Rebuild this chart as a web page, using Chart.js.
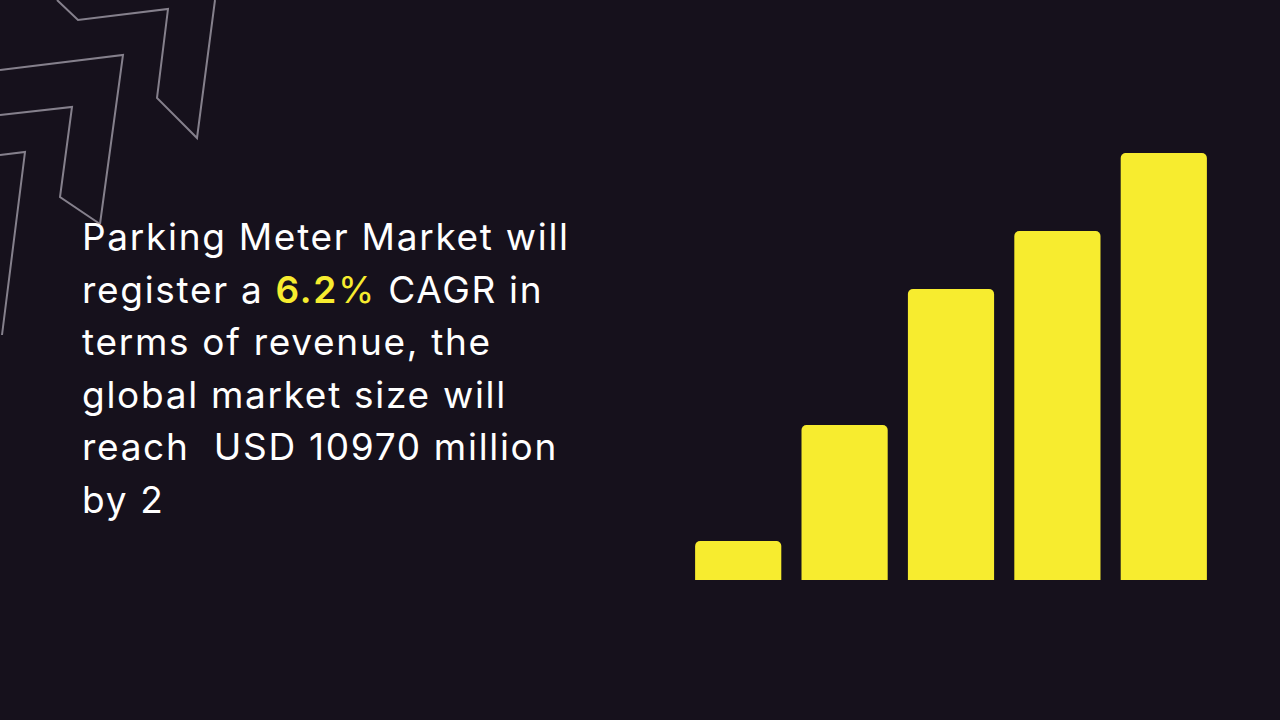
<!DOCTYPE html>
<html>
<head>
<meta charset="utf-8">
<script src="https://cdn.jsdelivr.net/npm/chart.js@4.4.0/dist/chart.umd.min.js"></script>
<style>
  html, body { margin: 0; padding: 0; background: #16111c; }
  #stage { position: relative; width: 1280px; height: 720px; overflow: hidden; background: #16111c; }
  #deco { position: absolute; left: 0; top: 0; }
  #headline {
    position: absolute; left: 82px; top: 211px; margin: 0;
    font-family: Inter, "Noto Sans", sans-serif; font-weight: 400;
    font-size: 37px; line-height: 52.5px; letter-spacing: 1.7px; color: #ffffff; white-space: pre;
  }
  #headline b { color: #f7ec2f; font-weight: 600; }
  #headline .pct { color: #f7ec2f; }
  #chartBox { position: absolute; left: 685px; top: 153px; width: 532px; height: 427px; }
</style>
</head>
<body>
<div id="stage">
  <svg id="deco" width="260" height="360" fill="none" stroke="#85808c" stroke-width="2">
    <polyline points="57,0 78,20 168,9 157,98 197,138 215,0"/>
    <polyline points="0,70 123,55 100,224"/>
    <polyline points="0,115 72,107 60,197 100,224"/>
    <polyline points="0,155 25,152 2,335"/>
  </svg>
  <p id="headline">Parking Meter Market will
register a <b>6.2</b><span class="pct">%</span> CAGR in
terms of revenue, the
global market size will
reach  USD 10970 million
by 2</p>
  <div id="chartBox"><canvas id="barChart"></canvas></div>
</div>
<script>
// Bar heights (arbitrary units, no axis shown)
const categories = ['1', '2', '3', '4', '5'];
const values = [39, 155, 291, 349, 427];

const ctx = document.getElementById('barChart').getContext('2d');
new Chart(ctx, {
    type: 'bar',
    data: {
        labels: categories,
        datasets: [{
            data: values,
            backgroundColor: '#f7ec2f',
            borderRadius: { topLeft: 5, topRight: 5 },
            borderSkipped: 'bottom',
            barPercentage: 0.81,
            categoryPercentage: 1
        }]
    },
    options: {
        responsive: true,
        maintainAspectRatio: false,
        animation: false,
        layout: { padding: 0 },
        plugins: { legend: { display: false }, tooltip: { enabled: false } },
        scales: {
            x: { display: false },
            y: { display: false, min: 0, max: 427 }
        }
    }
});
</script>
</body>
</html>
